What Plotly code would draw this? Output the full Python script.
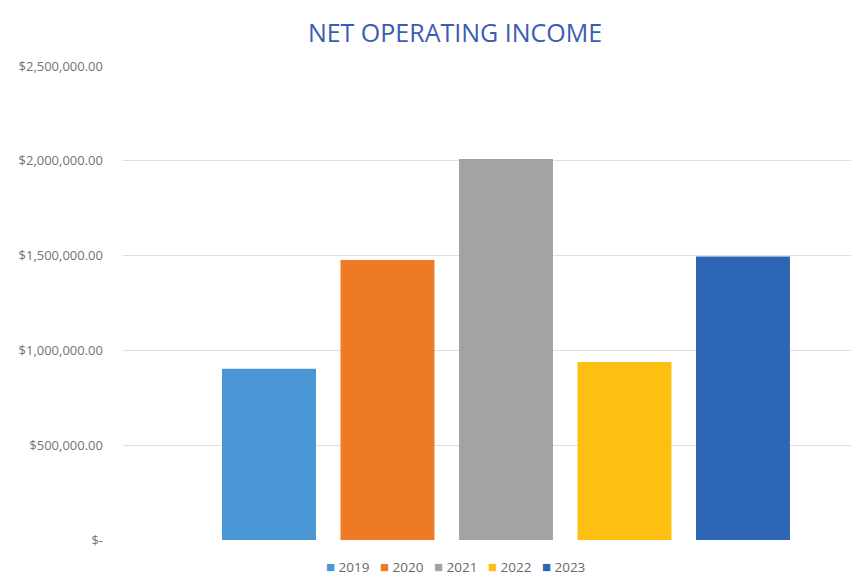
import plotly.graph_objects as go

years = ["2019", "2020", "2021", "2022", "2023"]
noi = [903000, 1477000, 2010000, 939000, 1495000]
colors = ["#4A96D4", "#EE7A25", "#A3A3A3", "#FDC012", "#2E66B6"]
tick_vals = [0, 500000, 1000000, 1500000, 2000000, 2500000]
tick_text = ["$-", "$500,000.00", "$1,000,000.00", "$1,500,000.00", "$2,000,000.00", "$2,500,000.00"]

# the page adds an 8px body margin, so the figure is 851x570
W, H = 851, 570
fig = go.Figure()
for yr, v, c in zip(years, noi, colors):
    fig.add_trace(go.Bar(x=[yr], y=[v], name=yr, showlegend=False,
                         marker=dict(color=c, line=dict(width=0))))

# compact Excel-style legend row
legend_html = "&nbsp;&nbsp;&nbsp;".join(
    f"<span style='color:{c};font-size:15px'>■</span>&nbsp;{yr}" for yr, c in zip(years, colors)
)
fig.add_annotation(text=legend_html, xref="paper", yref="paper",
                   x=(447 - 115) / (W - 115), y=-(558 - 532) / (532 - 58),
                   xanchor="center", yanchor="middle", showarrow=False,
                   font=dict(family="Open Sans", size=13.5, color="#6E6666"))

fig.update_layout(
    width=W, height=H,
    margin=dict(l=115, r=0, t=58, b=38),
    paper_bgcolor="white", plot_bgcolor="white",
    barmode="overlay", bargap=0.207,
    title=dict(text="NET OPERATING INCOME", x=447/W, xref="container", xanchor="center",
               y=1 - 25/H, yref="container", yanchor="middle",
               font=dict(family="Open Sans", size=25, color="#3B5CB5")),
    showlegend=False,
)
fig.update_xaxes(type="category", range=[-1.232, 4.979], showticklabels=False,
                 showgrid=False, zeroline=False, showline=False)
fig.update_yaxes(range=[0, 2500000], tickvals=tick_vals, ticktext=tick_text,
                 showgrid=True, gridcolor="#DEDEDE", gridwidth=1, zeroline=False,
                 showline=False, ticks="", ticklabelstandoff=19,
                 tickfont=dict(family="Open Sans", size=13, color="#7A7070"))

fig.write_html("out.html")
